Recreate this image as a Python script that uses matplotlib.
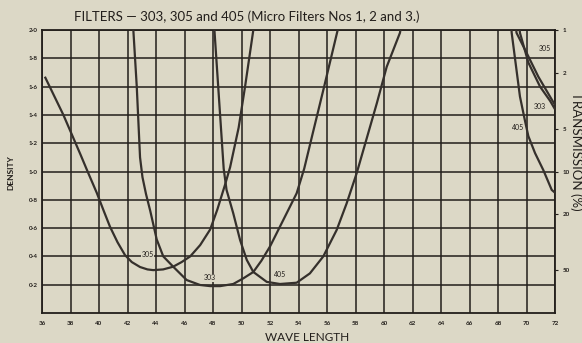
import matplotlib
matplotlib.use("Agg")
import matplotlib.pyplot as plt
import numpy as np

# ---- data (wavelength in hundreds of Angstrom, optical density) ----
wl_305 = [36.2, 37.5, 38.1, 38.7, 39.2, 39.84, 40.3, 40.77, 41.3, 41.82, 42.3, 42.88,
          43.4, 43.8, 44.5, 45.2, 45.8, 46.4, 47.1, 47.8, 48.3, 48.84, 49.2, 49.8,
          50.25, 50.83, 50.9]
d_305 = [1.67, 1.40, 1.26, 1.12, 1.00, 0.85, 0.73, 0.61, 0.50, 0.41, 0.36, 0.325,
         0.308, 0.303, 0.308, 0.327, 0.36, 0.40, 0.48, 0.59, 0.73, 0.905, 1.03, 1.31,
         1.60, 2.0, 2.05]

wl_303 = [42.38, 42.65, 42.88, 43.05, 43.3, 43.6, 44.05, 44.51, 45.21, 46.15, 47.09,
          47.8, 48.5, 49.42, 50.13, 50.83, 51.4, 52.0, 52.93, 53.87, 54.4, 55.0, 55.8,
          56.75, 56.8]
d_303 = [2.05, 1.60, 1.10, 0.96, 0.84, 0.72, 0.52, 0.40, 0.327, 0.233, 0.198,
         0.19, 0.19, 0.205, 0.245, 0.29, 0.37, 0.47, 0.657, 0.846, 1.02, 1.27, 1.60,
         2.0, 2.03]

wl_405 = [48.05, 48.1, 48.75, 48.95, 49.42, 49.9, 50.37, 50.83, 51.77, 52.7, 53.87,
          54.8, 55.74, 56.68, 57.38, 58.08, 59.49, 60.19, 61.12, 61.2]
d_405 = [2.05, 2.0, 1.02, 0.87, 0.705, 0.516, 0.375, 0.29, 0.22, 0.205, 0.214,
         0.28, 0.40, 0.587, 0.775, 0.987, 1.48, 1.74, 1.98, 2.03]

# red-end leaks
wl_305r = [69.25, 69.3, 70.0, 70.83, 71.53, 72.0]
d_305r = [2.03, 1.98, 1.84, 1.67, 1.55, 1.47]
wl_303r = [69.5, 69.54, 70.13, 70.95, 71.65, 72.0]
d_303r = [2.03, 1.98, 1.77, 1.60, 1.50, 1.44]
wl_405r = [68.93, 68.96, 69.54, 69.89, 70.13, 70.6, 71.18, 71.77, 72.0]
d_405r = [2.03, 1.98, 1.53, 1.36, 1.25, 1.13, 1.01, 0.87, 0.85]

x_ticks = list(range(36, 73, 2))
y_ticks = [0.2, 0.4, 0.6, 0.8, 1.0, 1.2, 1.4, 1.6, 1.8, 2.0]
y_labels = ["0·2", "0·4", "0·6", "0·8", "1·0", "1·2", "1·4", "1·6", "1·8", "2·0"]
trans_pct = [1, 2, 5, 10, 20, 50]

curve_labels = [("305", 43.4, 0.41), ("303", 47.8, 0.25), ("405", 52.7, 0.27),
                ("305", 71.3, 1.87), ("303", 70.9, 1.46), ("405", 69.4, 1.31)]

# ---- style ----
bg = "#dcd8c6"
ink = "#221e1b"
curve_c = "#35302c"
plt.rcParams["font.family"] = ["Lato", "DejaVu Sans"]

fig = plt.figure(figsize=(5.82, 3.43), dpi=100, facecolor=bg)
ax = fig.add_axes([42/582, 1-313/343, (555-42)/582, (313-30)/343])
ax.set_facecolor(bg)
ax.set_xlim(36, 72)
ax.set_ylim(0, 2.0)

for x in x_ticks:
    ax.axvline(x, color=ink, lw=1.1, zorder=1)
for y in y_ticks:
    ax.axhline(y, color=ink, lw=1.1, zorder=1)
for s in ax.spines.values():
    s.set_color(ink)
    s.set_linewidth(1.3)

for wl, d in [(wl_305, d_305), (wl_303, d_303), (wl_405, d_405),
              (wl_305r, d_305r), (wl_303r, d_303r), (wl_405r, d_405r)]:
    ax.plot(wl, d, color=curve_c, lw=1.6, zorder=3, solid_capstyle="butt",
            solid_joinstyle="round")

for txt, x, y in curve_labels:
    ax.text(x, y, txt, fontsize=5, color=ink, ha="center", va="center", zorder=4,
            bbox=dict(facecolor=bg, edgecolor="none", pad=0.3))

ax.set_xticks(x_ticks)
ax.set_xticklabels([str(v) for v in x_ticks], fontsize=4.5, fontweight="bold", color=ink)
ax.set_yticks(y_ticks)
ax.set_yticklabels(y_labels, fontsize=4.5, fontweight="bold", color=ink)
ax.tick_params(axis="x", length=0, pad=6)
ax.tick_params(axis="y", length=0, pad=3)

ax2 = ax.twinx()
ax2.set_ylim(0, 2.0)
ax2.set_yticks([np.log10(100 / t) for t in trans_pct])
ax2.set_yticklabels([str(t) for t in trans_pct], fontsize=4.5, fontweight="bold", color=ink)
ax2.tick_params(axis="y", length=2.5, width=0.8, color=ink, pad=3)
for s in ax2.spines.values():
    s.set_visible(False)

fig.text(0.424, 0.95, "FILTERS — 303, 305 and 405 (Micro Filters Nos 1, 2 and 3.)",
         fontsize=9.5, color=ink, ha="center", va="center")
fig.text(0.527, 0.017, "WAVE LENGTH", fontsize=8.5, color=ink, ha="center", va="center")
fig.text(0.019, 0.496, "DENSITY", fontsize=6, fontweight="bold", color=ink,
         rotation=90, ha="center", va="center")
fig.text(0.99, 0.56, "TRANSMISSION (%)", fontsize=9.5, color=ink, rotation=270,
         ha="center", va="center")

fig.savefig("out.png", dpi=100, facecolor=bg)
